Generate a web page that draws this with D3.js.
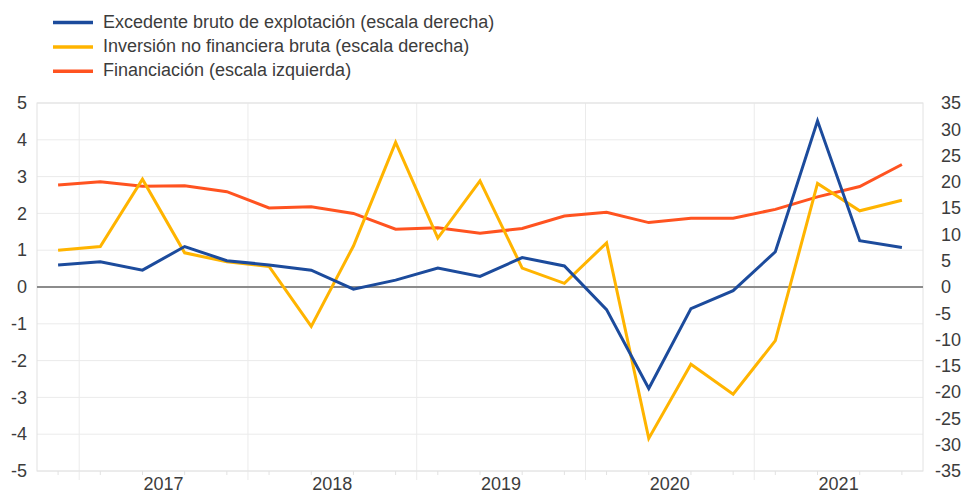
<!DOCTYPE html>
<html>
<head>
<meta charset="utf-8">
<script src="https://cdn.jsdelivr.net/npm/d3@7"></script>
<style>
    body { margin: 0; background: #fff; }
    svg { display: block; font-family: "Liberation Sans", Arial, sans-serif; }
</style>
</head>
<body>
<div id="chart"></div>
<script>
// Quarterly data, 2016 Q4 - 2021 Q4
const quarters = [
    "2016 Q4",
    "2017 Q1", "2017 Q2", "2017 Q3", "2017 Q4",
    "2018 Q1", "2018 Q2", "2018 Q3", "2018 Q4",
    "2019 Q1", "2019 Q2", "2019 Q3", "2019 Q4",
    "2020 Q1", "2020 Q2", "2020 Q3", "2020 Q4",
    "2021 Q1", "2021 Q2", "2021 Q3", "2021 Q4"
];
const years = ["2017", "2018", "2019", "2020", "2021"];

// right scale
const excedente = [4.2, 4.8, 3.2, 7.7, 5.0, 4.2, 3.2, -0.4, 1.3, 3.6, 2.0, 5.6, 4.0, -4.3, -19.3, -4.1, -0.7, 6.7, 31.6, 8.8, 7.5];
const inversion = [7.0, 7.7, 20.5, 6.5, 4.8, 3.9, -7.5, 7.8, 27.5, 9.3, 20.2, 3.6, 0.7, 8.4, -28.8, -14.7, -20.4, -10.2, 19.7, 14.5, 16.5];
// left scale
const financiacion = [2.77, 2.86, 2.74, 2.75, 2.59, 2.15, 2.18, 2.0, 1.57, 1.61, 1.46, 1.59, 1.93, 2.03, 1.75, 1.87, 1.87, 2.11, 2.45, 2.73, 3.33];

const leftTicks = [5, 4, 3, 2, 1, 0, -1, -2, -3, -4, -5];
const rightTicks = [35, 30, 25, 20, 15, 10, 5, 0, -5, -10, -15, -20, -25, -30, -35];

const legendLabels = [
    "Excedente bruto de explotación (escala derecha)",
    "Inversión no financiera bruta (escala derecha)",
    "Financiación (escala izquierda)"
];

const width = 966;
const height = 493;
const plot = { left: 37, right: 923, top: 103, bottom: 471 };

const colors = { blue: "#1c4b9c", yellow: "#ffb400", orange: "#ff5320" };
const textColor = "#3c3c3c";

const svg = d3.select("#chart").append("svg")
    .attr("width", width)
    .attr("height", height);

// Scales
const x = d3.scaleBand()
    .domain(quarters)
    .range([plot.left, plot.right]);
const bw = x.bandwidth();
const cx = q => x(q) + bw / 2;

const yLeft = d3.scaleLinear().domain([-5, 5]).range([plot.bottom, plot.top]);
const yRight = d3.scaleLinear().domain([-35, 35]).range([plot.bottom, plot.top]);

const xYears = d3.scaleBand()
    .domain(years)
    .range([x("2017 Q1"), x("2021 Q4") + bw]);

// Horizontal gridlines
svg.append("g").selectAll("line")
    .data(leftTicks)
    .enter().append("line")
    .attr("x1", plot.left)
    .attr("x2", plot.right)
    .attr("y1", d => yLeft(d))
    .attr("y2", d => yLeft(d))
    .attr("stroke", "#ebebeb")
    .attr("stroke-width", 1);

// Year boundary lines (extend under the axis)
svg.append("g").selectAll("line")
    .data(years)
    .enter().append("line")
    .attr("x1", d => xYears(d))
    .attr("x2", d => xYears(d))
    .attr("y1", plot.top)
    .attr("y2", plot.bottom + 9)
    .attr("stroke", "#ebebeb")
    .attr("stroke-width", 1);

// Frame
svg.append("rect")
    .attr("x", plot.left)
    .attr("y", plot.top)
    .attr("width", plot.right - plot.left)
    .attr("height", plot.bottom - plot.top)
    .attr("fill", "none")
    .attr("stroke", "#e2e2e2")
    .attr("stroke-width", 1);

// Minor ticks at each quarter
svg.append("g").selectAll("line")
    .data(quarters)
    .enter().append("line")
    .attr("x1", d => cx(d))
    .attr("x2", d => cx(d))
    .attr("y1", plot.bottom)
    .attr("y2", plot.bottom + 4)
    .attr("stroke", "#e2e2e2")
    .attr("stroke-width", 1);

// Zero line
svg.append("line")
    .attr("x1", plot.left)
    .attr("x2", plot.right)
    .attr("y1", yLeft(0))
    .attr("y2", yLeft(0))
    .attr("stroke", "#8c8c8c")
    .attr("stroke-width", 2);

// Axes (plain hyphen for negatives, like the original)
const fmt = d => String(d);

const leftAxis = svg.append("g")
    .attr("transform", `translate(${plot.left},0)`)
    .call(d3.axisLeft(yLeft).tickValues(leftTicks).tickFormat(fmt).tickSize(0).tickPadding(10));

const rightAxis = svg.append("g")
    .attr("transform", `translate(${plot.right},0)`)
    .call(d3.axisRight(yRight).tickValues(rightTicks).tickFormat(fmt).tickSize(0).tickPadding(18));
rightAxis.selectAll("text")
    .attr("dx", d => d < 0 ? -6 : 0);

const bottomAxis = svg.append("g")
    .attr("transform", `translate(0,${plot.bottom})`)
    .call(d3.axisBottom(xYears).tickSize(0).tickPadding(6));

[leftAxis, rightAxis, bottomAxis].forEach(g => {
    g.select(".domain").remove();
    g.selectAll("text")
        .attr("fill", textColor)
        .style("font-size", "18px")
        .style("font-family", "'Liberation Sans', Arial, sans-serif");
});

// Lines
const series = [
    { values: financiacion, scale: yLeft, color: colors.orange },
    { values: inversion, scale: yRight, color: colors.yellow },
    { values: excedente, scale: yRight, color: colors.blue }
];

series.forEach(s => {
    const line = d3.line()
        .x((d, i) => cx(quarters[i]))
        .y(d => s.scale(d));
    svg.append("path")
        .datum(s.values)
        .attr("d", line)
        .attr("fill", "none")
        .attr("stroke", s.color)
        .attr("stroke-width", 3)
        .attr("stroke-linejoin", "miter");
});

// Legend
const legendColors = [colors.blue, colors.yellow, colors.orange];
const legend = svg.append("g");
legendLabels.forEach((label, i) => {
    const yy = 22.5 + i * 24.4;
    legend.append("line")
        .attr("x1", 53)
        .attr("x2", 93)
        .attr("y1", yy)
        .attr("y2", yy)
        .attr("stroke", legendColors[i])
        .attr("stroke-width", 3.5);
    legend.append("text")
        .attr("x", 103)
        .attr("y", yy + 5)
        .attr("fill", textColor)
        .style("font-size", "18px")
        .text(label);
});
</script>
</body>
</html>
